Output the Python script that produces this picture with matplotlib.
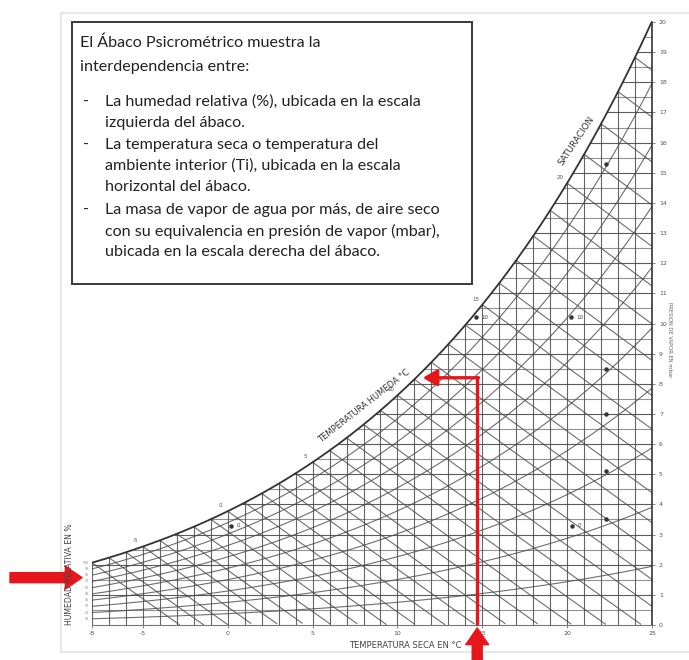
import numpy as np
import matplotlib
matplotlib.use("Agg")
import matplotlib.pyplot as plt
from matplotlib.patches import Rectangle
from matplotlib.lines import Line2D
from matplotlib.transforms import offset_copy

# ---------------- data ----------------
temp_ticks = [-8, -5, 0, 5, 10, 15, 20, 25]
temp_min, temp_max = -8, 25
w_ticks = [0, 1, 2, 3, 4, 5, 6, 7, 8, 9, 10, 11, 12, 13, 14, 15, 16, 17, 18, 19, 20]
w_grid = [0.5, 1, 1.5, 2, 2.5, 3, 3.5, 4, 4.5, 5, 5.5, 6, 6.5, 7, 7.5, 8, 8.5, 9, 9.5,
          10, 10.5, 11, 11.5, 12, 12.5, 13, 13.5, 14, 14.5, 15, 15.5, 16, 16.5, 17,
          17.5, 18, 18.5, 19, 19.5]
dry_bulb_lines = [-8, -7, -6, -5, -4, -3, -2, -1, 0, 1, 2, 3, 4, 5, 6, 7, 8, 9, 10,
                  11, 12, 13, 14, 15, 16, 17, 18, 19, 20, 21, 22, 23, 24]
wet_bulb_lines = [-8, -7, -6, -5, -4, -3, -2, -1, 0, 1, 2, 3, 4, 5, 6, 7, 8, 9, 10,
                  11, 12, 13, 14, 15, 16, 17, 18, 19, 20, 21, 22, 23, 24, 25]
rh_levels = [10, 20, 30, 40, 50, 60, 70, 80, 90]
rh_scale = [10, 20, 30, 40, 50, 60, 70, 80, 90, 100]
sat_labels = [-5, 0, 5, 10, 15, 20, 25]
vp_ticks_mbar = [0, 1, 2, 3, 4, 5, 6, 7, 8, 9, 10, 11, 12, 13, 14, 15, 16, 17, 18, 19,
                 20, 21, 22, 23, 24, 25, 26, 27, 28, 29, 30, 31, 32]
mark_T = [0.2, 20.3, 14.6, 20.2, 22.3, 22.3, 22.3, 22.3, 22.3]
mark_W = [3.3, 3.3, 10.2, 10.2, 8.5, 7.0, 5.1, 3.5, 15.3]
mark_txt = ["0", "0", "10", "10", "", "", "", "", ""]
reading_ti = 14.7      # temperatura seca leida (°C)
reading_w = 8.2        # masa de vapor (g/kg)
rh_arrow = 76          # humedad relativa senalada (%)

box_lines = [
    (0, "El Ábaco Psicrométrico muestra la"),
    (0, "interdependencia entre:"),
    (1, "La humedad relativa (%), ubicada en la escala"),
    (2, "izquierda del ábaco."),
    (1, "La temperatura seca o temperatura del"),
    (2, "ambiente interior (Ti), ubicada en la escala"),
    (2, "horizontal del ábaco."),
    (1, "La masa de vapor de agua por más, de aire seco"),
    (2, "con su equivalencia en presión de vapor (mbar),"),
    (2, "ubicada en la escala derecha del ábaco."),
]
box_y = [43, 67, 102, 123, 145, 166, 187, 210, 231, 252]

# ---------------- psychrometrics ----------------
P = 1013.25


def psat(t):
    t = np.asarray(t, dtype=float)
    return 6.112 * np.exp(17.62 * t / (243.12 + t))


def w_of_p(p):
    p = np.asarray(p, dtype=float)
    return 622.0 * p / (P - p)


def wsat(t):
    return w_of_p(psat(t))


tgrid = np.linspace(temp_min, temp_max + 1, 800)


def tdew(w):
    return np.interp(w, wsat(tgrid), tgrid)


# ---------------- figure ----------------
W_PX, H_PX = 689, 660
fig = plt.figure(figsize=(W_PX / 100, H_PX / 100), dpi=100)
fig.patch.set_facecolor("white")


def fx(px):
    return px / W_PX


def fy(py):
    return 1 - py / H_PX


L, R, T, B = 92, 652, 22, 625
ax = fig.add_axes([fx(L), fy(B), (R - L) / W_PX, (B - T) / H_PX])
ax.set_xlim(temp_min, temp_max)
ax.set_ylim(0, 20)
ax.set_facecolor("none")

gcol = "#4a4a4a"
lw = 0.8

# vertical dry-bulb lines
for t in dry_bulb_lines:
    ax.plot([t, t], [0, float(wsat(t))], color=gcol, lw=lw, alpha=0.85)

# horizontal humidity lines
for w in w_grid:
    ax.plot([float(tdew(w)), temp_max], [w, w], color=gcol, lw=lw,
            alpha=0.9 if float(w).is_integer() else 0.6)

# wet-bulb lines (down-right)
for twb in wet_bulb_lines:
    ws = float(wsat(twb))
    tt = np.linspace(twb, temp_max + 20, 300)
    ww = ((2501 - 2.326 * twb) * ws - 1006 * (tt - twb)) / (2501 + 1.86 * tt - 4.186 * twb)
    m = ww >= 0
    ax.plot(tt[m], ww[m], color=gcol, lw=lw, alpha=0.8)

# relative humidity curves (up-right)
tt = np.linspace(temp_min, temp_max, 300)
for rh in rh_levels:
    ax.plot(tt, w_of_p(rh / 100 * psat(tt)), color=gcol, lw=lw, alpha=0.8)

# saturation curve
ax.plot(tgrid, wsat(tgrid), color="#333333", lw=1.3)

# labels on saturation curve
for t in sat_labels:
    ax.annotate(str(t), (t, float(wsat(t))), xytext=(-5, 4), textcoords="offset points",
                fontsize=4, color="#555555", ha="center", va="center")

# markers inside the chart
for t, w, s in zip(mark_T, mark_W, mark_txt):
    ax.plot([t], [w], marker="o", ms=2.2, color="#333333")
    if s:
        ax.annotate(s, (t, w), xytext=(4, 0), textcoords="offset points",
                    fontsize=4, color="#444444", va="center")

# vapour-pressure scale (mbar) on the far right (labels fall outside the page)
ax2 = ax.twinx()
ax2.set_ylim(0, 20)
for s in ["top", "left", "bottom"]:
    ax2.spines[s].set_visible(False)
ax2.spines["right"].set_position(("outward", 30))
ax2.spines["right"].set_color("#555555")
ax2.spines["right"].set_linewidth(0.8)
ax2.set_yticks([float(w_of_p(p)) for p in vp_ticks_mbar if w_of_p(p) <= 20])
ax2.set_yticklabels([])
ax2.tick_params(axis="y", length=4, width=0.5, direction="inout", colors="#666666")

# axes styling
for s in ["top", "left"]:
    ax.spines[s].set_visible(False)
ax.spines["right"].set_color("#333333")
ax.spines["right"].set_linewidth(1.2)
ax.spines["bottom"].set_color("#777777")
ax.spines["bottom"].set_linewidth(0.8)
ax.set_xticks(temp_ticks)
ax.set_xticklabels([str(t) for t in temp_ticks])
ax.yaxis.tick_right()
ax.set_yticks(w_ticks)
ax.set_yticklabels([str(w) for w in w_ticks])
ax.tick_params(axis="x", length=2, width=0.5, pad=2, labelsize=4.5, colors="#555555")
ax.tick_params(axis="y", which="both", left=False, labelleft=False, right=True,
               labelright=True, length=2, width=0.5, pad=3, labelsize=4.5,
               colors="#555555", direction="out")

# relative humidity scale on the left
wl = float(wsat(temp_min))
for rh in rh_scale:
    ax.annotate(str(rh), (temp_min, rh / 100 * wl), xytext=(-2, 0),
                textcoords="offset points", fontsize=2.3, color="#888888",
                ha="right", va="center", annotation_clip=False)

# axis titles
fig.text(fx(405), fy(645), "TEMPERATURA SECA EN °C", fontsize=6.0, color="#444444",
         ha="center", va="center")
fig.text(fx(69), fy(574), "HUMEDAD RELATIVA EN %", fontsize=5.6, color="#444444",
         ha="center", va="center", rotation=90)
fig.text(fx(669), fy(340), "PRESION DE VAPOR EN mbar", fontsize=3.8, color="#666666",
         ha="center", va="center", rotation=270)
fig.text(fx(364), fy(406), "TEMPERATURA HUMEDA °C", fontsize=6.0, color="#333333",
         ha="center", va="center", rotation=38)
fig.text(fx(576), fy(141), "SATURACION", fontsize=6.4, color="#333333",
         ha="center", va="center", rotation=56)

# page border (behind everything)
for xs, ys in [([61, 61], [13, 652]), ([61, 689], [13, 13]), ([61, 689], [652, 652])]:
    fig.add_artist(Line2D([fx(v) for v in xs], [fy(v) for v in ys], color="#e4e4e4",
                          lw=1.2, zorder=-1))

# text box
fig.add_artist(Rectangle((fx(72), fy(284)), fx(472) - fx(72), fy(22) - fy(284),
                         facecolor="white", edgecolor="#3a3a3a", lw=1.4,
                         transform=fig.transFigure, zorder=5))
fs_box = 11.6
for (lvl, txt), yy in zip(box_lines, box_y):
    if lvl == 0:
        fig.text(fx(80), fy(yy), txt, fontsize=fs_box, family="Lato", color="#222222",
                 va="center", zorder=6)
    else:
        if lvl == 1:
            fig.text(fx(83), fy(yy), "-", fontsize=fs_box, family="Lato", color="#222222",
                     va="center", zorder=6)
        fig.text(fx(105), fy(yy), txt, fontsize=fs_box, family="Lato", color="#222222",
                 va="center", zorder=6)

# red reading lines and arrows
red = "#e8161b"
ax.plot([reading_ti, reading_ti], [0, reading_w], color=red, lw=2.4,
        solid_capstyle="butt", zorder=10, clip_on=False)
ax.annotate("", xy=(float(tdew(reading_w)) + 0.4, reading_w),
            xytext=(reading_ti + 0.08, reading_w),
            arrowprops=dict(arrowstyle="-|>,head_length=0.6,head_width=0.35",
                            color=red, lw=2.4, shrinkA=0, shrinkB=0,
                            mutation_scale=14),
            zorder=10)
tr_b = offset_copy(ax.transData, fig=fig, x=0, y=-3, units="dots")
ax.annotate("", xy=(reading_ti, 0), xycoords=tr_b, xytext=(0, -40),
            textcoords="offset pixels",
            arrowprops=dict(arrowstyle="simple,head_length=0.4,head_width=0.55,tail_width=0.24",
                            color=red, shrinkA=0, shrinkB=0, mutation_scale=30),
            annotation_clip=False, zorder=10)
tr_l = offset_copy(ax.transData, fig=fig, x=-10, y=0, units="dots")
ax.annotate("", xy=(temp_min, rh_arrow / 100 * wl), xycoords=tr_l, xytext=(-72, 0),
            textcoords="offset pixels",
            arrowprops=dict(arrowstyle="simple,head_length=0.4,head_width=0.55,tail_width=0.24",
                            color=red, shrinkA=0, shrinkB=0, mutation_scale=30),
            annotation_clip=False, zorder=10)

fig.savefig("out.png", dpi=100, facecolor="white")
